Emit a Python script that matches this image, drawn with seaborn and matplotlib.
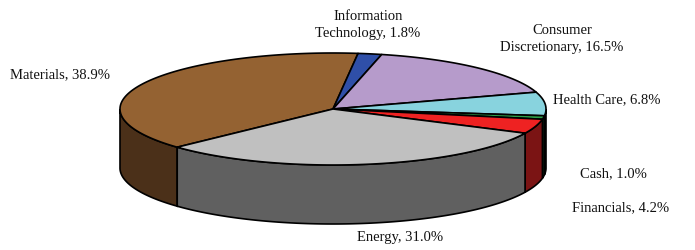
import numpy as np
import matplotlib
matplotlib.use("Agg")
import matplotlib.pyplot as plt
import seaborn as sns
from matplotlib.patches import Polygon

# sector weights (%), clockwise from the front-left
sectors = ["Materials", "Information\nTechnology", "Consumer\nDiscretionary",
           "Health Care", "Cash", "Financials", "Energy"]
shares = [38.9, 1.8, 16.5, 6.8, 1.0, 4.2, 31.0]
top_colors = ["#946232", "#2F4FA8", "#B69BCB", "#88D3DE", "#2E9E48", "#EE2222", "#C0C0C0"]
side_colors = ["#4B3019", "#1A2A5A", "#5E4F6A", "#111111", "#124020", "#7B1414", "#606060"]

sns.set_theme(style="white")
plt.rcParams["font.family"] = ["Liberation Serif", "DejaVu Serif"]

fig = plt.figure(figsize=(6.95, 2.5), dpi=100)
ax = fig.add_axes([0, 0, 1, 1])
ax.set_xlim(0, 695)
ax.set_ylim(250, 0)
ax.axis("off")

# pie geometry (pixels)
cx, cy, a, b, depth = 333, 109, 213, 56, 59
start = 223.0

vals = np.array(shares) / sum(shares) * 360
ends = start - np.cumsum(vals)
starts = ends + vals


def arc(t1, t2, n=200):
    t = np.radians(np.linspace(t1, t2, n))
    return cx + a * np.cos(t), cy - b * np.sin(t), np.sin(t)


# side walls (only the front half is visible)
for s, e, c in zip(starts, ends, side_colors):
    x, y, sn = arc(s, e, 400)
    m = sn <= 1e-9
    if m.sum() < 2:
        continue
    xs, ys = x[m], y[m]
    pts = np.column_stack([np.r_[xs, xs[::-1]], np.r_[ys, ys[::-1] + depth]])
    ax.add_patch(Polygon(pts, closed=True, facecolor=c, edgecolor="black", lw=1.2, zorder=1))

# top faces
for s, e, c in zip(starts, ends, top_colors):
    x, y, _ = arc(s, e)
    pts = np.column_stack([np.r_[cx, x], np.r_[cy, y]])
    ax.add_patch(Polygon(pts, closed=True, facecolor=c, edgecolor="black", lw=1.2,
                         joinstyle="round", zorder=2))

# labels
kw = dict(fontsize=10.5, color="#111111")
ax.text(10, 75, f"{sectors[0]}, {shares[0]}%", ha="left", va="center", **kw)
ax.text(368, 25, f"{sectors[1]}, {shares[1]}%", ha="center", va="center", linespacing=1.5, **kw)
ax.text(562, 39, f"{sectors[2]}, {shares[2]}%", ha="center", va="center", linespacing=1.5, **kw)
ax.text(553, 100, f"{sectors[3]}, {shares[3]}%", ha="left", va="center", **kw)
ax.text(580, 174, f"{sectors[4]}, {shares[4]}%", ha="left", va="center", **kw)
ax.text(572, 208, f"{sectors[5]}, {shares[5]}%", ha="left", va="center", **kw)
ax.text(400, 238, f"{sectors[6]}, {shares[6]}%", ha="center", va="center", **kw)

fig.savefig("out.png", dpi=100, facecolor="white")
